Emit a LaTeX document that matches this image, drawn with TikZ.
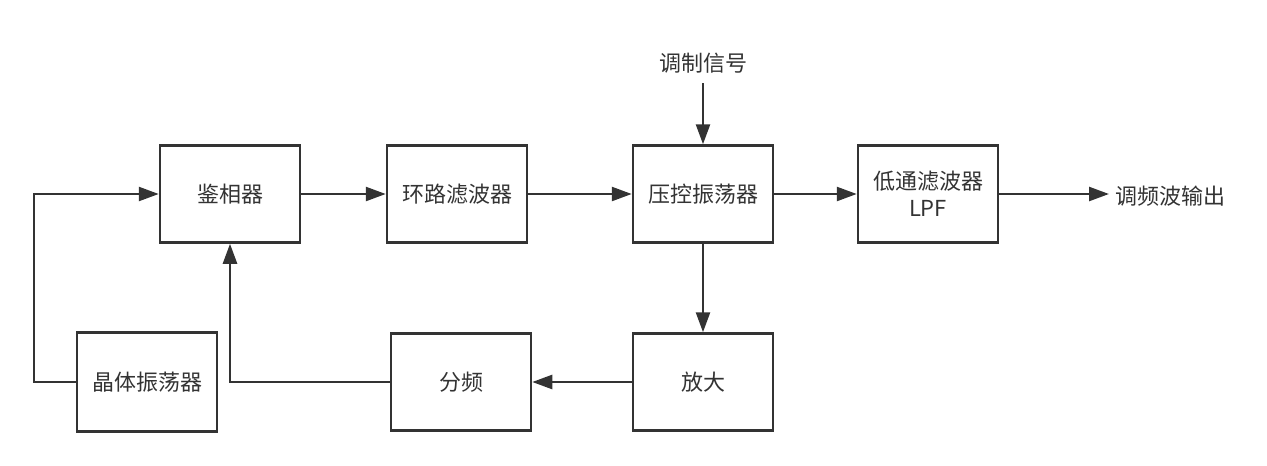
\documentclass[tikz,border=0pt]{standalone}
\usepackage{fontspec}
\newfontfamily\cjk{Noto Sans CJK SC}
\usetikzlibrary{arrows.meta}
\definecolor{ink}{HTML}{333333}
\tikzset{
  blk/.style={draw=ink, line width=2.5pt, minimum width=140pt, minimum height=97pt, inner sep=0pt, text=ink, align=center, font=\cjk\fontsize{22}{27}\selectfont},
  lbl/.style={text=ink, inner sep=0pt, font=\cjk\fontsize{22}{27}\selectfont},
  arr/.style={draw=ink, line width=2.5pt, -{Triangle[length=20pt,width=14pt]}},
  ln/.style={draw=ink, line width=2.5pt}
}
\begin{document}
\begin{tikzpicture}[x=1pt,y=-1pt]
\useasboundingbox (0,0) rectangle (1267,466);
\node[blk] (pd) at (230,194) {鉴相器};
\node[blk] (lf) at (457,194) {环路滤波器};
\node[blk] (vco) at (703,194) {压控振荡器};
\node[blk] (lpf) at (928,194) {低通滤波器\\LPF};
\node[blk, minimum height=99pt] (xo) at (147,382) {晶体振荡器};
\node[blk] (div) at (461,382) {分频};
\node[blk] (amp) at (703,382) {放大};
\node[lbl, outer sep=10pt] (mod) at (703,63) {调制信号};
\node[lbl, anchor=west, outer sep=6pt] (out) at (1109,196) {调频波输出};
\draw[arr] (pd.east) -- (lf.west);
\draw[arr] (lf.east) -- (vco.west);
\draw[arr] (vco.east) -- (lpf.west);
\draw[arr] (lpf.east) -- (lpf.east -| out.west);
\draw[arr] (mod.south) -- (vco.north);
\draw[arr] (vco.south) -- (amp.north);
\draw[arr] (amp.west) -- (div.west -| div.east);
\draw[arr] (div.west) -| (pd.south);
\draw[arr] (xo.west) -- ++(-42,0) |- (pd.west);
\end{tikzpicture}
\end{document}
